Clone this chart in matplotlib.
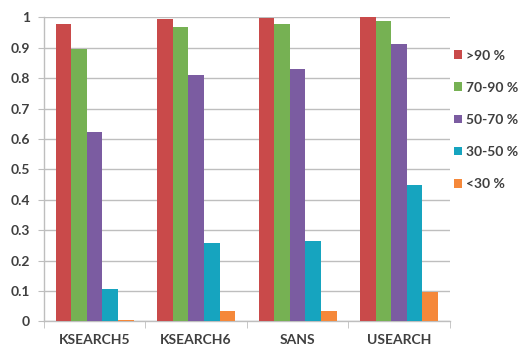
import matplotlib
matplotlib.use("Agg")
import matplotlib.pyplot as plt
import numpy as np

categories = ["KSEARCH5", "KSEARCH6", "SANS", "USEARCH"]
series_labels = [">90 %", "70-90 %", "50-70 %", "30-50 %", "<30 %"]
gt90 = [0.978, 0.994, 0.999, 1.0]
r70_90 = [0.897, 0.969, 0.980, 0.987]
r50_70 = [0.623, 0.810, 0.832, 0.914]
r30_50 = [0.108, 0.259, 0.266, 0.448]
lt30 = [0.004, 0.033, 0.035, 0.096]
yticks = [0, 0.1, 0.2, 0.3, 0.4, 0.5, 0.6, 0.7, 0.8, 0.9, 1]
ytick_labels = ["0", "0.1", "0.2", "0.3", "0.4", "0.5", "0.6", "0.7", "0.8", "0.9", "1"]

colors = ["#C94A4A", "#76B153", "#7B5CA1", "#16A4BF", "#F5883A"]
text_color = "#3F3F3F"
grid_color = "#BEBEBE"

plt.rcParams["font.family"] = ["Lato", "DejaVu Sans"]
plt.rcParams["font.weight"] = "bold"

fig = plt.figure(figsize=(5.23, 3.49), dpi=100)
ax = fig.add_axes([0.084, 0.079, 0.776, 0.871])

series = [gt90, r70_90, r50_70, r30_50, lt30]
x = np.arange(len(categories))
w = 0.154
for i, (vals, lab, col) in enumerate(zip(series, series_labels, colors)):
    ax.bar(x + (i - 2) * w, vals, width=w, color=col, label=lab, zorder=3, linewidth=0)

ax.set_xlim(-0.5, len(categories) - 0.5)
ax.set_ylim(0, 1)
ax.set_yticks(yticks)
ax.set_yticklabels(ytick_labels)
ax.yaxis.grid(True, color=grid_color, linewidth=1.0, zorder=0)
ax.set_axisbelow(True)

# category labels centered, tick marks at category boundaries
ax.set_xticks(x)
ax.set_xticklabels(categories)
ax.set_xticks(np.arange(len(categories) + 1) - 0.5, minor=True)
ax.tick_params(axis="x", which="major", length=0, pad=9, labelsize=10, labelcolor=text_color)
ax.tick_params(axis="x", which="minor", length=5, color=grid_color, direction="out")
ax.tick_params(axis="y", length=4, color=grid_color, labelsize=10, labelcolor=text_color, pad=6)

for s in ["top", "right"]:
    ax.spines[s].set_visible(False)
for s in ["left", "bottom"]:
    ax.spines[s].set_color(grid_color)
    ax.spines[s].set_linewidth(1.0)

leg = fig.legend(loc="upper left", bbox_to_anchor=(0.868, 0.858), frameon=False,
                 fontsize=10, handlelength=0.6, handleheight=0.6, handletextpad=0.3,
                 labelspacing=1.45, borderpad=0, borderaxespad=0)
for t in leg.get_texts():
    t.set_color(text_color)

fig.savefig("out.png", dpi=100)
